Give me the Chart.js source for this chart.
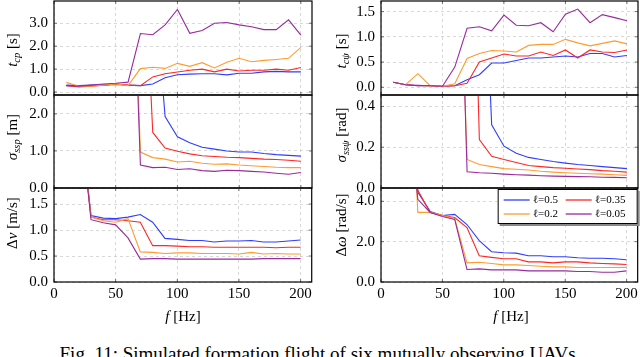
<!DOCTYPE html>
<html>
<head>
<meta charset="utf-8">
<script src="https://cdn.jsdelivr.net/npm/chart.js@4.4.1/dist/chart.umd.min.js"></script>
<style>
    body { margin: 0; background: #fff; }
    #fig { position: relative; width: 640px; height: 357px; overflow: hidden; font-family: "Liberation Serif", serif; color: #000; }
    #fig canvas { position: absolute; }
    .ylab { position: absolute; transform: translate(-50%, -50%) rotate(-90deg); white-space: nowrap; font-size: 15px; line-height: 15px; }
    .xlab { position: absolute; transform: translate(-50%, -50%); white-space: nowrap; font-size: 15px; line-height: 15px; }
    sub { font-size: 70%; vertical-align: -0.3em; line-height: 0; }
    #caption { position: absolute; left: 0; width: 640px; top: 344px; text-align: center; font-size: 19px; line-height: 19px; white-space: nowrap; }
</style>
</head>
<body>
<div id="fig">
    <canvas id="tcp"></canvas>
    <canvas id="sigp"></canvas>
    <canvas id="dv"></canvas>
    <canvas id="tcpsi"></canvas>
    <canvas id="sigpsi"></canvas>
    <canvas id="dw"></canvas>

    <div class="ylab" style="left:12px; top:50px;"><i>t</i><sub><i>cp</i></sub> [s]</div>
    <div class="ylab" style="left:12px; top:137px;"><i>σ</i><sub><i>ssp</i></sub> [m]</div>
    <div class="ylab" style="left:12px; top:223px;">Δ<i>v</i> [m/s]</div>
    <div class="ylab" style="left:341px; top:51px;"><i>t</i><sub><i>cψ</i></sub> [s]</div>
    <div class="ylab" style="left:341px; top:135px;"><i>σ</i><sub><i>ssψ</i></sub> [rad]</div>
    <div class="ylab" style="left:341px; top:225px;">Δ<i>ω</i> [rad/s]</div>
    <div class="xlab" style="left:183px; top:316px;"><i>f</i> [Hz]</div>
    <div class="xlab" style="left:511px; top:316px;"><i>f</i> [Hz]</div>

    <div id="caption">Fig. 11: Simulated formation flight of six mutually observing UAVs.</div>
</div>

<script>
// sample frequencies [Hz]
const freq = [10, 20, 30, 40, 50, 60, 70, 80, 90, 100, 110, 120, 130, 140, 150, 160, 170, 180, 190, 200];
const ells = ["0.5", "0.35", "0.2", "0.05"];
const colores = ["#2f3dff", "#ff2626", "#ff9b30", "#9a2a9e"];
const xTicks = [0, 50, 100, 150, 200];

// t_cp [s]
const tcpA = [0.30, 0.28, 0.30, 0.30, 0.33, 0.30, 0.28, 0.35, 0.62, 0.75, 0.78, 0.80, 0.80, 0.75, 0.82, 0.82, 0.88, 0.90, 0.88, 0.88];
const tcpB = [0.28, 0.22, 0.25, 0.30, 0.35, 0.30, 0.28, 0.66, 0.80, 0.87, 0.95, 1.00, 0.88, 1.00, 0.92, 0.95, 0.95, 1.00, 0.95, 1.07];
const tcpC = [0.42, 0.25, 0.25, 0.30, 0.35, 0.28, 1.02, 1.08, 1.03, 1.25, 1.12, 1.28, 1.05, 1.30, 1.47, 1.32, 1.38, 1.42, 1.47, 1.95];
const tcpD = [0.28, 0.25, 0.30, 0.35, 0.38, 0.43, 2.55, 2.50, 2.93, 3.60, 2.56, 2.68, 3.00, 3.03, 2.93, 2.85, 2.72, 2.72, 3.15, 2.48];
const tcpTicks = [0, 1, 2, 3];

// sigma_ssp [m]
const sigpA = [null, null, null, null, null, null, null, 6.0, 1.93, 1.38, 1.22, 1.10, 1.05, 1.00, 0.97, 0.97, 0.93, 0.90, 0.88, 0.86];
const sigpB = [null, null, null, null, null, null, 8.6, 1.50, 1.08, 0.99, 0.92, 0.87, 0.85, 0.83, 0.82, 0.80, 0.78, 0.77, 0.75, 0.72];
const sigpC = [null, null, null, null, null, 10, 0.97, 0.82, 0.78, 0.70, 0.72, 0.67, 0.64, 0.65, 0.62, 0.60, 0.58, 0.56, 0.55, 0.55];
const sigpD = [null, null, null, null, null, 10, 0.62, 0.55, 0.56, 0.50, 0.52, 0.47, 0.45, 0.48, 0.47, 0.45, 0.43, 0.40, 0.37, 0.42];
const sigpTicks = [0, 1, 2];

// delta v [m/s]
const dvA = [null, 3.45, 1.28, 1.23, 1.22, 1.25, 1.30, 1.15, 0.84, 0.82, 0.80, 0.80, 0.77, 0.79, 0.79, 0.80, 0.77, 0.77, 0.79, 0.81];
const dvB = [null, 3.45, 1.25, 1.20, 1.20, 1.18, 1.15, 0.70, 0.70, 0.69, 0.68, 0.68, 0.67, 0.67, 0.67, 0.67, 0.67, 0.66, 0.67, 0.67];
const dvC = [null, 3.45, 1.25, 1.18, 1.15, 1.22, 0.58, 0.57, 0.55, 0.56, 0.56, 0.55, 0.55, 0.55, 0.54, 0.57, 0.54, 0.55, 0.54, 0.54];
const dvD = [null, 3.50, 1.20, 1.14, 1.10, 0.85, 0.44, 0.45, 0.45, 0.44, 0.44, 0.44, 0.44, 0.44, 0.44, 0.44, 0.45, 0.45, 0.45, 0.45];
const dvTicks = [0, 0.5, 1, 1.5];

// t_cpsi [s]
const tcpsiA = [0.10, 0.05, 0.03, 0.03, 0.02, 0.03, 0.15, 0.25, 0.48, 0.48, 0.53, 0.58, 0.58, 0.60, 0.62, 0.60, 0.67, 0.67, 0.60, 0.63];
const tcpsiB = [0.10, 0.05, 0.03, 0.03, 0.02, 0.03, 0.08, 0.50, 0.58, 0.66, 0.62, 0.62, 0.70, 0.63, 0.74, 0.58, 0.74, 0.70, 0.69, 0.74];
const tcpsiC = [0.10, 0.05, 0.27, 0.03, 0.02, 0.07, 0.57, 0.67, 0.73, 0.72, 0.70, 0.83, 0.85, 0.85, 0.95, 0.88, 0.82, 0.87, 0.92, 0.86];
const tcpsiD = [0.10, 0.05, 0.04, 0.03, 0.02, 0.40, 1.17, 1.20, 1.12, 1.43, 1.23, 1.22, 1.28, 1.10, 1.45, 1.55, 1.28, 1.44, 1.38, 1.32];
const tcpsiTicks = [0, 0.5, 1, 1.5];

// sigma_sspsi [rad]
const sigpsiA = [null, null, null, null, null, null, null, 1.73, 0.31, 0.205, 0.17, 0.15, 0.14, 0.13, 0.122, 0.115, 0.11, 0.105, 0.10, 0.095];
const sigpsiB = [null, null, null, null, null, null, 2.4, 0.237, 0.155, 0.14, 0.125, 0.11, 0.105, 0.10, 0.097, 0.093, 0.09, 0.085, 0.082, 0.078];
const sigpsiC = [null, null, null, null, null, 1.87, 0.14, 0.115, 0.105, 0.095, 0.092, 0.088, 0.082, 0.078, 0.075, 0.072, 0.07, 0.068, 0.065, 0.062];
const sigpsiD = [null, null, null, null, null, 2.15, 0.08, 0.075, 0.072, 0.068, 0.065, 0.063, 0.06, 0.058, 0.057, 0.056, 0.055, 0.053, 0.052, 0.05];
const sigpsiTicks = [0, 0.2, 0.4];

// delta omega [rad/s]
const dwA = [null, 10, 4.45, 3.50, 3.30, 3.35, 2.85, 2.05, 1.50, 1.45, 1.43, 1.30, 1.30, 1.25, 1.25, 1.20, 1.18, 1.18, 1.15, 1.10];
const dwB = [null, 10, 4.55, 3.45, 3.30, 3.20, 2.70, 1.30, 1.22, 1.15, 1.15, 1.00, 1.00, 0.95, 1.00, 1.00, 0.95, 0.92, 0.90, 0.87];
const dwC = [null, 15, 3.45, 3.45, 3.30, 3.15, 0.95, 0.98, 0.92, 0.85, 0.85, 0.82, 0.78, 0.75, 0.75, 0.72, 0.72, 0.72, 0.72, 0.72];
const dwD = [null, 10, 4.10, 3.45, 3.25, 3.10, 0.62, 0.65, 0.60, 0.60, 0.60, 0.55, 0.55, 0.55, 0.55, 0.52, 0.52, 0.48, 0.48, 0.55];
const dwTicks = [0, 2, 4];

const fuente = { family: '"Liberation Serif", serif', size: 15 };

// black box around the plot area plus small inner tick marks
const marco = {
    id: "marco",
    afterDatasetsDraw(chart) {
        const a = chart.chartArea;
        const ctx = chart.ctx;
        ctx.save();
        ctx.strokeStyle = "#555";
        ctx.lineWidth = 0.8;
        ctx.beginPath();
        chart.scales.y.ticks.forEach(t => {
            const py = chart.scales.y.getPixelForValue(t.value);
            ctx.moveTo(a.left, py); ctx.lineTo(a.left + 3, py);
            ctx.moveTo(a.right, py); ctx.lineTo(a.right - 3, py);
        });
        chart.scales.x.ticks.forEach(t => {
            const px = chart.scales.x.getPixelForValue(t.value);
            ctx.moveTo(px, a.bottom); ctx.lineTo(px, a.bottom - 3);
            ctx.moveTo(px, a.top); ctx.lineTo(px, a.top + 3);
        });
        ctx.stroke();
        ctx.strokeStyle = "#000";
        ctx.lineWidth = 1.2;
        ctx.strokeRect(a.left, a.top, a.right - a.left, a.bottom - a.top);
        ctx.restore();
    }
};

// legend drawn inside the plot area, top right corner
const leyenda = {
    id: "leyenda",
    afterDraw(chart) {
        const a = chart.chartArea;
        const ctx = chart.ctx;
        const w = 140, h = 35;
        const x0 = a.right - w, y0 = a.top + 1;
        ctx.save();
        ctx.fillStyle = "#888";
        ctx.fillRect(x0 + 2, y0 + 2, w, h);
        ctx.fillStyle = "#fff";
        ctx.fillRect(x0, y0, w, h);
        ctx.strokeStyle = "#000";
        ctx.lineWidth = 1;
        ctx.strokeRect(x0 + 0.5, y0 + 0.5, w - 1, h - 1);
        ctx.font = '11px "Liberation Serif", serif';
        ctx.textBaseline = "middle";
        chart.data.datasets.forEach((ds, i) => {
            const cx = x0 + 6 + (i % 2) * 62;
            const cy = y0 + 11 + Math.floor(i / 2) * 14;
            ctx.strokeStyle = ds.borderColor;
            ctx.lineWidth = 1.3;
            ctx.beginPath();
            ctx.moveTo(cx, cy);
            ctx.lineTo(cx + 26, cy);
            ctx.stroke();
            ctx.fillStyle = "#000";
            ctx.fillText(ds.label, cx + 29, cy);
        });
        ctx.restore();
    }
};

function crearPanel(id, colLeft, box, yMin, yMax, yTicks, series, conEjeX, conLeyenda) {
    const cv = document.getElementById(id);
    // padding must exceed the y scale's own label padding (~15px) or the plot area shrinks
    const padTop = 18, padRight = 3;
    const altoEjeX = conEjeX ? 24 : 0;
    const padBottom = conEjeX ? 0 : 18;
    const w = box.right - colLeft + padRight;
    const h = box.bottom - box.top + padTop + padBottom + altoEjeX;
    cv.width = w;
    cv.height = h;
    cv.style.width = w + "px";
    cv.style.height = h + "px";
    cv.style.left = colLeft + "px";
    cv.style.top = (box.top - padTop) + "px";

    const datasets = series.map((s, i) => ({
        label: "ℓ=" + ells[i],
        data: s.map((v, j) => ({ x: freq[j], y: v })),
        borderColor: colores[i],
        borderWidth: 1.1,
        pointRadius: 0,
        tension: 0,
        order: 4 - i
    }));

    const grid = { color: "#cfcfcf", lineWidth: 0.8, drawTicks: false, tickLength: 0 };

    return new Chart(cv, {
        type: "line",
        data: { datasets: datasets },
        options: {
            responsive: false,
            animation: false,
            events: [],
            layout: { padding: { left: 0, top: padTop, right: padRight, bottom: padBottom } },
            plugins: { legend: { display: false }, tooltip: { enabled: false } },
            scales: {
                x: {
                    type: "linear",
                    min: 0,
                    max: 209,
                    afterBuildTicks: s => { s.ticks = xTicks.map(v => ({ value: v })); },
                    afterFit: s => { s.height = altoEjeX; },
                    grid: grid,
                    border: { display: false, dash: [3, 3] },
                    ticks: { display: conEjeX, padding: 3, color: "#000", font: fuente, maxRotation: 0, callback: v => String(v) }
                },
                y: {
                    type: "linear",
                    min: yMin,
                    max: yMax,
                    afterBuildTicks: s => { s.ticks = yTicks.map(v => ({ value: v })); },
                    afterFit: s => { s.width = box.left - colLeft; },
                    grid: grid,
                    border: { display: false, dash: [3, 3] },
                    ticks: { padding: 6, color: "#000", font: fuente, callback: v => Number(v).toFixed(1) }
                }
            }
        },
        plugins: conLeyenda ? [marco, leyenda] : [marco]
    });
}

crearPanel("tcp", 0, { left: 54, top: 1, right: 312, bottom: 95 }, -0.13, 3.97, tcpTicks, [tcpA, tcpB, tcpC, tcpD], false, false);
crearPanel("sigp", 0, { left: 54, top: 95, right: 312, bottom: 188 }, 0, 2.51, sigpTicks, [sigpA, sigpB, sigpC, sigpD], false, false);
crearPanel("dv", 0, { left: 54, top: 188, right: 312, bottom: 282 }, 0, 1.81, dvTicks, [dvA, dvB, dvC, dvD], true, false);
crearPanel("tcpsi", 320, { left: 381, top: 1, right: 638, bottom: 95 }, -0.153, 1.71, tcpsiTicks, [tcpsiA, tcpsiB, tcpsiC, tcpsiD], false, false);
crearPanel("sigpsi", 320, { left: 381, top: 95, right: 638, bottom: 188 }, 0, 0.456, sigpsiTicks, [sigpsiA, sigpsiB, sigpsiC, sigpsiD], false, false);
crearPanel("dw", 320, { left: 381, top: 188, right: 638, bottom: 282 }, 0, 4.66, dwTicks, [dwA, dwB, dwC, dwD], true, true);
</script>
</body>
</html>
